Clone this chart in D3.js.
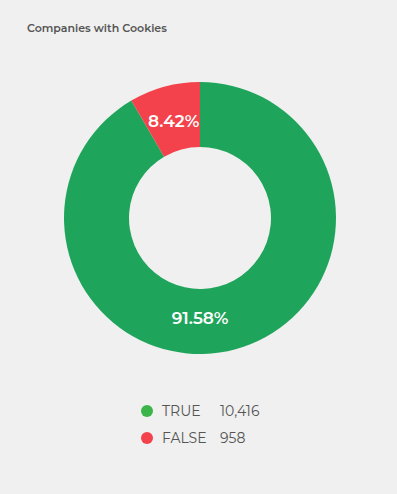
<!DOCTYPE html>
<html><head><meta charset="utf-8">
<script src="https://cdn.jsdelivr.net/npm/d3@7"></script>
<style>
html,body{margin:0;padding:0;background:#eff0ef;}
svg{display:block;}
</style></head>
<body>
<svg id="chart" width="397" height="494"></svg>
<script>
const title = "Companies with Cookies";
const categories = ["TRUE", "FALSE"];
const counts = [10416, 958];
const pieColors = ["#1fa55b", "#f3424b"];
const legendColors = ["#3bb54a", "#f3424b"];

const W = 397, H = 494;
const svg = d3.select("#chart");
svg.append("rect").attr("x",0).attr("y",0).attr("width",W).attr("height",H).attr("fill","#eff0ef");

svg.append("text").attr("x",27).attr("y",32)
  .attr("font-family","Montserrat, 'Noto Sans', sans-serif").attr("font-weight",600)
  .attr("font-size",11).attr("fill","#555").text(title);

const cx = 200, cy = 218, rOut = 136, rIn = 71;
const total = d3.sum(counts);
const data = categories.map((c,i)=>({cat:c, value:counts[i], i}));
const pie = d3.pie().value(d=>d.value).sort(null).startAngle(0).endAngle(2*Math.PI);
const arcs = pie(data);
const arc = d3.arc().innerRadius(rIn).outerRadius(rOut);
const g = svg.append("g").attr("transform",`translate(${cx},${cy})`);
g.selectAll("path").data(arcs).join("path")
  .attr("d",arc).attr("fill",d=>pieColors[d.data.i]);

const fmt = d3.format(".2f");
const labelArc = d3.arc().innerRadius((rIn+rOut)/2 - 3).outerRadius((rIn+rOut)/2 - 3);
g.selectAll("text.lbl").data(arcs).join("text").attr("class","lbl")
  .attr("transform",d=>{
    let p;
    if (d.endAngle - d.startAngle > Math.PI) {
      p = labelArc.centroid({startAngle:Math.PI, endAngle:Math.PI});
    } else p = labelArc.centroid(d);
    return `translate(${p[0]},${p[1]})`;
  })
  .attr("text-anchor","middle").attr("dy","0.35em")
  .attr("font-family","Montserrat, 'Noto Sans', sans-serif").attr("font-weight",600)
  .attr("font-size",17).attr("fill","#fff")
  .text(d=>fmt(d.value/total*100)+"%");

const lg = svg.append("g");
const rows = lg.selectAll("g").data(data).join("g")
  .attr("transform",(d,i)=>`translate(147,${411 + i*27})`);
rows.append("circle").attr("r",6).attr("fill",d=>legendColors[d.i]);
rows.append("text").attr("x",15).attr("dy","0.35em")
  .attr("font-family","Montserrat, 'Noto Sans', sans-serif").attr("font-size",14).attr("fill","#555")
  .text(d=>d.cat);
rows.append("text").attr("x",73).attr("dy","0.35em")
  .attr("font-family","Montserrat, 'Noto Sans', sans-serif").attr("font-size",14).attr("fill","#555")
  .text(d=>d3.format(",")(d.value));
</script>
</body></html>
